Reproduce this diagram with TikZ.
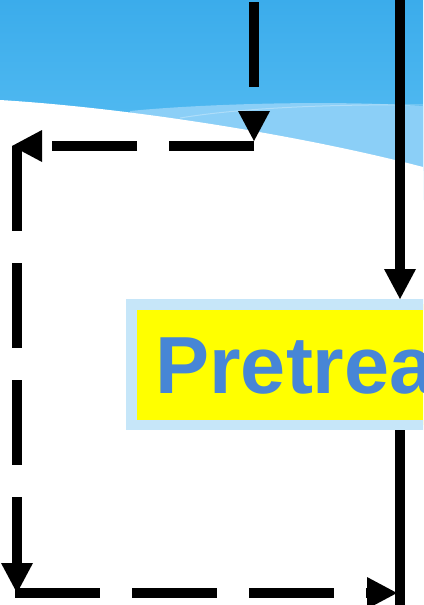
\documentclass[tikz,border=0pt]{standalone}
\usepackage{fontspec}
\setsansfont{Liberation Sans}
\usetikzlibrary{arrows.meta}
\definecolor{skytop}{RGB}{59,172,235}
\definecolor{skylow}{RGB}{88,190,243}
\definecolor{skyband}{RGB}{139,207,247}
\definecolor{framepale}{RGB}{198,230,249}
\definecolor{boxfill}{RGB}{255,255,0}
\definecolor{labelblue}{RGB}{71,134,214}

\begin{document}
\begin{tikzpicture}[x=1pt,y=-1pt,
  flow/.style={line width=10pt,-{Triangle[length=30pt,width=32pt,line width=0pt]}},
  flowdash/.style={flow,dash pattern=on 85pt off 32pt},
  procbox/.style={draw=framepale,fill=boxfill,line width=10.5pt,inner xsep=24.2pt,inner ysep=31.25pt,
    text width=290pt,align=left,text height=58pt,text depth=0pt,
    font=\sffamily\bfseries\fontsize{81}{81}\selectfont,text=labelblue}]
\useasboundingbox (0,0) rectangle (423,605);
\clip (0,0) rectangle (423,605);
% backdrop
\shade[top color=skytop,bottom color=skylow] (0,0) rectangle (423,170);
\fill[skyband] (130,111) .. controls (200,104) and (330,100) .. (423,106) -- (423,200) -- (130,200) -- cycle;
\draw[white,opacity=0.3,line width=1pt] (180,118) .. controls (240,108) and (330,104) .. (423,105);
\fill[white] (0,100) .. controls (130,108) and (300,135) .. (423,167) -- (423,605) -- (0,605) -- cycle;

\node[procbox,anchor=west] (pre) at (126,364.5) {Pretrea};

\coordinate (feedL) at (254,2);
\coordinate (turnL) at (254,146);
\coordinate (cornerNW) at (17,146);
\coordinate (cornerSW) at (17,593);
\coordinate (feedR) at (400,0);
\coordinate (outR) at (400,605);

\draw[flowdash] (feedL) -- ([yshift=5pt]turnL);
\draw[flowdash] (turnL) -- ([xshift=-5pt]cornerNW);
\draw[flowdash] (cornerNW) -- (cornerSW);
\draw[flowdash] ([xshift=-2pt]cornerSW) -- ([xshift=-3pt]outR |- cornerSW);
\draw[flow] (feedR) -- (feedR |- pre.north);
\draw[line width=10pt] (feedR |- pre.south) -- (outR);
\end{tikzpicture}
\end{document}
